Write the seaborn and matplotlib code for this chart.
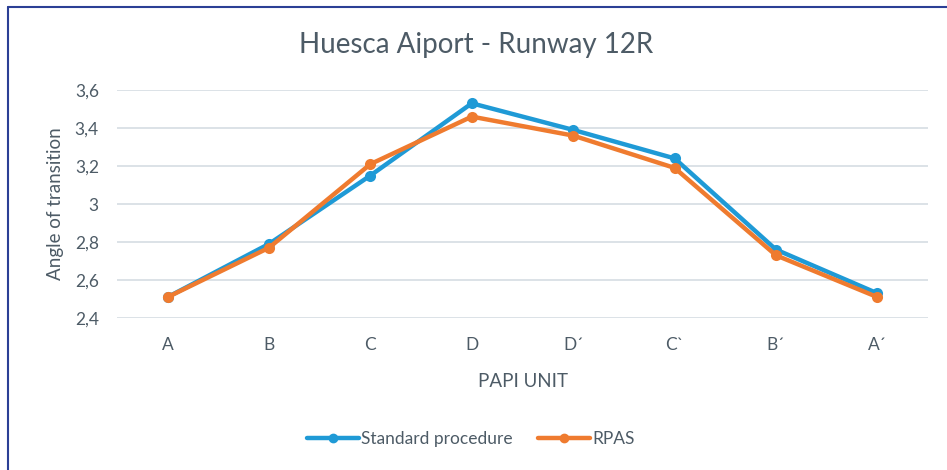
import matplotlib
matplotlib.use("Agg")
import matplotlib.pyplot as plt
import seaborn as sns
import pandas as pd
from matplotlib.lines import Line2D

categories = ["A", "B", "C", "D", "D\u00b4", "C`", "B\u00b4", "A\u00b4"]
standard = [2.51, 2.79, 3.15, 3.53, 3.39, 3.24, 2.76, 2.53]
rpas = [2.51, 2.77, 3.21, 3.46, 3.36, 3.19, 2.73, 2.51]
series_names = ["Standard procedure", "RPAS"]
yticks = [2.4, 2.6, 2.8, 3.0, 3.2, 3.4, 3.6]
ytick_labels = ["2,4", "2,6", "2,8", "3", "3,2", "3,4", "3,6"]

df = pd.DataFrame({
    "PAPI UNIT": categories * 2,
    "Angle": standard + rpas,
    "Series": [series_names[0]] * len(categories) + [series_names[1]] * len(categories),
})

sns.set_theme(style="white")
plt.rcParams["font.family"] = ["Lato", "DejaVu Sans"]

text_color = "#4d5b66"
blue = "#1f9ad6"
orange = "#ef7b2f"

fig = plt.figure(figsize=(9.47, 4.70), dpi=100)
ax = fig.add_axes([0.1235, 0.3234, 0.98 - 0.1235, 0.8085 - 0.3234])

sns.lineplot(data=df, x="PAPI UNIT", y="Angle", hue="Series", palette=[blue, orange],
             sort=False, marker="o", markersize=8, markeredgewidth=0, linewidth=3.2,
             ax=ax, legend=False)

ax.set_xlim(-0.5, len(categories) - 0.5)
ax.set_ylim(2.4, 3.6)
ax.set_yticks(yticks)
ax.set_yticklabels(ytick_labels)
ax.set_xticks(range(len(categories)))
ax.set_xticklabels(categories)
ax.yaxis.grid(True, color="#d5dde3", linewidth=1.2)
ax.set_axisbelow(True)
for s in ax.spines.values():
    s.set_visible(False)
ax.tick_params(axis="both", length=0, colors=text_color, labelsize=12.5)
ax.tick_params(axis="y", pad=13)
ax.tick_params(axis="x", pad=14)
ax.set_xlabel("PAPI UNIT", color=text_color, fontsize=13.5, labelpad=14)
ax.set_ylabel("Angle of transition", color=text_color, fontsize=13.5, labelpad=8)

fig.text(0.503, 0.905, "Huesca Aiport - Runway 12R", ha="center", va="center",
         color=text_color, fontsize=20)

handles = [Line2D([0], [0], color=blue, lw=3.2, marker="o", markersize=6),
           Line2D([0], [0], color=orange, lw=3.2, marker="o", markersize=6)]
fig.legend(handles, series_names, loc="center", bbox_to_anchor=(0.497, 0.065), ncol=2,
           frameon=False, fontsize=12.5, labelcolor=text_color, handlelength=3,
           handletextpad=0.1, columnspacing=1.5)

# frame lines (top and left)
fig.add_artist(Line2D([0.0085, 1.0], [0.985, 0.985], color="#2b3f95", lw=1.5,
                      transform=fig.transFigure))
fig.add_artist(Line2D([0.0085, 0.0085], [0.0, 0.985], color="#2b3f95", lw=1.5,
                      transform=fig.transFigure))

fig.savefig("out.png", dpi=100)
